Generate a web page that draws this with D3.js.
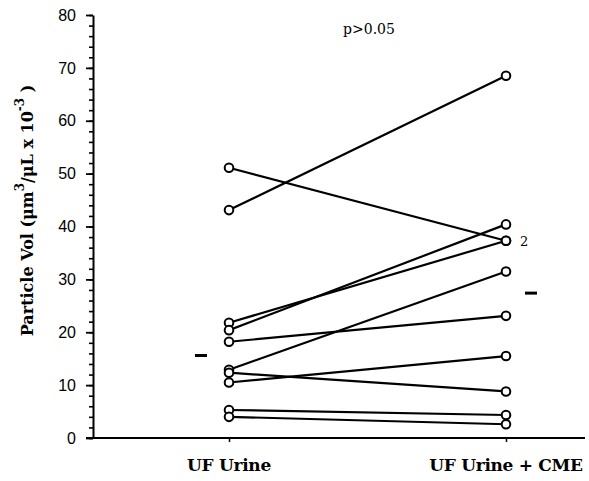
<!DOCTYPE html>
<html>
<head>
<meta charset="utf-8">
<script src="https://cdn.jsdelivr.net/npm/d3@7"></script>
<style>
  body { margin: 0; background: #fff; }
  .tick text { font-family: "Liberation Sans", Arial, sans-serif; font-size: 16px; fill: #000; }
  .serif { font-family: "DejaVu Serif", "Liberation Serif", serif; fill: #000; }
</style>
</head>
<body>
<div id="wrapper"></div>
<script>

// 1. Data

const categories = ["UF Urine", "UF Urine + CME"];
const ufUrine    = [51.1, 43.1, 21.8, 20.4, 18.2, 12.9, 12.35, 10.5, 5.3, 4.0];
const ufUrineCme = [37.3, 68.5, 37.3, 40.4, 23.1, 31.5, 8.8, 15.5, 4.35, 2.6];
const medians = [15.6, 27.4];
const yMajorTicks = [0, 10, 20, 30, 40, 50, 60, 70, 80];
const yMinorTicks = d3.range(0, 81, 2);

const pairs = ufUrine.map((d, i) => [d, ufUrineCme[i]]);

// 2. Dimensions

const dimensions = {
  width: 589,
  height: 481,
  margin: { top: 15, right: 4, bottom: 43, left: 93 },
};

// 3. Canvas

const wrapper = d3.select("#wrapper")
  .append("svg")
  .attr("width", dimensions.width)
  .attr("height", dimensions.height);

// 4. Scales

const yScale = d3.scaleLinear()
  .domain([0, 80])
  .range([dimensions.height - dimensions.margin.bottom, dimensions.margin.top]);

const xScale = d3.scalePoint()
  .domain(categories)
  .range([229, 506]);

// 5. Peripherals

const minorAxis = d3.axisLeft(yScale)
  .tickValues(yMinorTicks)
  .tickSize(4)
  .tickFormat("");
wrapper.append("g")
  .attr("transform", `translate(${dimensions.margin.left},0)`)
  .call(minorAxis)
  .call(g => g.selectAll("line").attr("stroke-width", 1.6))
  .call(g => g.select(".domain").remove());

const yAxis = d3.axisLeft(yScale)
  .tickValues(yMajorTicks)
  .tickSize(7)
  .tickSizeOuter(0)
  .tickPadding(10);
wrapper.append("g")
  .attr("transform", `translate(${dimensions.margin.left},0)`)
  .call(yAxis)
  .call(g => g.select(".domain").attr("stroke-width", 2))
  .call(g => g.selectAll("line").attr("stroke-width", 1.8));

const xAxis = d3.axisBottom(xScale)
  .tickSize(4)
  .tickSizeOuter(0)
  .tickFormat("");
wrapper.append("g")
  .attr("transform", `translate(0,${yScale(0)})`)
  .call(xAxis)
  .call(g => g.select(".domain").remove())
  .call(g => g.selectAll("line").attr("stroke-width", 1.5));

wrapper.append("line")
  .attr("x1", dimensions.margin.left - 7)
  .attr("x2", dimensions.width - dimensions.margin.right)
  .attr("y1", yScale(0))
  .attr("y2", yScale(0))
  .attr("stroke", "#000")
  .attr("stroke-width", 2);

wrapper.selectAll(".cat-label")
  .data(categories)
  .join("text")
  .attr("class", "serif cat-label")
  .attr("x", d => xScale(d))
  .attr("y", 471)
  .attr("text-anchor", "middle")
  .attr("font-weight", "bold")
  .attr("font-size", 17)
  .attr("letter-spacing", -0.3)
  .text(d => d);

// y axis title with superscripts
const yTitle = wrapper.append("text")
  .attr("class", "serif")
  .attr("transform", `translate(33,${(yScale(0) + yScale(80)) / 2 - 16}) rotate(-90)`)
  .attr("text-anchor", "middle")
  .attr("font-weight", "bold")
  .attr("font-size", 16);
yTitle.append("tspan").text("Particle Vol (μm");
yTitle.append("tspan").attr("dy", -9).attr("font-size", 12).text("3");
yTitle.append("tspan").attr("dy", 9).text("/μL x 10");
yTitle.append("tspan").attr("dy", -9).attr("font-size", 12).text("-3");
yTitle.append("tspan").attr("dy", 9).text(" )");

wrapper.append("text")
  .attr("class", "serif")
  .attr("x", 369)
  .attr("y", 34)
  .attr("text-anchor", "middle")
  .attr("font-size", 14)
  .text("p>0.05");

// 6. Data

const lines = wrapper.append("g");
lines.selectAll("line")
  .data(pairs)
  .join("line")
  .attr("x1", xScale(categories[0]))
  .attr("x2", xScale(categories[1]))
  .attr("y1", d => yScale(d[0]))
  .attr("y2", d => yScale(d[1]))
  .attr("stroke", "#000")
  .attr("stroke-width", 2.2);

const dots = wrapper.append("g");
categories.forEach((cat, ci) => {
  dots.selectAll(`.dot-${ci}`)
    .data(pairs)
    .join("circle")
    .attr("class", `dot-${ci}`)
    .attr("cx", xScale(cat))
    .attr("cy", d => yScale(d[ci]))
    .attr("r", 4.3)
    .attr("fill", "#fff")
    .attr("stroke", "#000")
    .attr("stroke-width", 2);
});

// count label for the overlapping pair
wrapper.append("text")
  .attr("class", "serif")
  .attr("x", xScale(categories[1]) + 14)
  .attr("y", yScale(37.3) + 5)
  .attr("font-size", 13)
  .text("2");

// medians
wrapper.append("g")
  .selectAll("line")
  .data(medians)
  .join("line")
  .attr("x1", (d, i) => xScale(categories[i]) + (i === 0 ? -34 : 19))
  .attr("x2", (d, i) => xScale(categories[i]) + (i === 0 ? -22 : 31))
  .attr("y1", d => yScale(d))
  .attr("y2", d => yScale(d))
  .attr("stroke", "#000")
  .attr("stroke-width", 3);

</script>
</body>
</html>
